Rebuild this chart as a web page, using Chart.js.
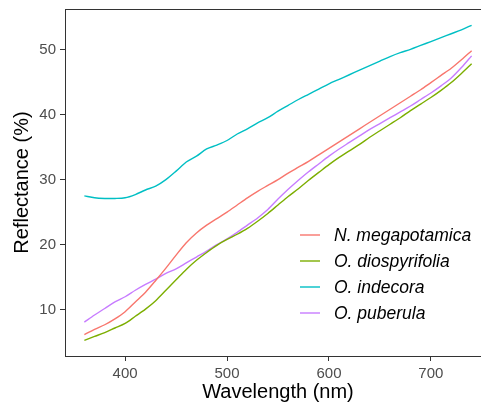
<!DOCTYPE html>
<html lang="en">
<head>
    <meta charset="UTF-8">
    <script src="https://cdn.jsdelivr.net/npm/chart.js"></script>
    <style>
        html, body {
            margin: 0;
            padding: 0;
            background: #ffffff;
            overflow: hidden;
        }

        #wrap {
            width: 500px;
            height: 407px;
        }
    </style>
    <title>Reflectance</title>
</head>
<body>
    <div id="wrap"><canvas id="spectra" width="500" height="407"></canvas></div>
    <script>
        // wavelengths (nm) and reflectance (%)
        const wavelengths = [360, 370, 380, 390, 400, 410, 420, 430, 440, 450, 460, 470, 480, 490, 500,
            510, 520, 530, 540, 550, 560, 570, 580, 590, 600, 610, 620, 630, 640, 650,
            660, 670, 680, 690, 700, 710, 720, 730, 740];

        const megapotamica = [6.2, 7.0, 7.7, 8.6, 9.7, 11.2, 12.7, 14.5, 16.4, 18.4, 20.3, 21.8, 23.0, 24.0, 25.0,
            26.1, 27.2, 28.2, 29.1, 30.0, 31.0, 31.9, 32.8, 33.8, 34.8, 35.8, 36.8, 37.8, 38.8, 39.8,
            40.8, 41.8, 42.8, 43.8, 44.9, 46.0, 47.1, 48.4, 49.8];

        const diospyrifolia = [5.3, 5.9, 6.5, 7.2, 7.9, 9.0, 10.1, 11.4, 13.0, 14.6, 16.2, 17.6, 18.8, 19.9, 20.8,
            21.6, 22.5, 23.6, 24.8, 26.1, 27.4, 28.6, 29.9, 31.1, 32.3, 33.4, 34.4, 35.4, 36.5, 37.5,
            38.5, 39.5, 40.6, 41.6, 42.6, 43.7, 44.9, 46.3, 47.8];

        const indecora = [27.5, 27.2, 27.1, 27.1, 27.2, 27.7, 28.4, 29.0, 30.0, 31.3, 32.7, 33.6, 34.7, 35.3, 36.0,
            37.0, 37.8, 38.7, 39.5, 40.5, 41.4, 42.3, 43.1, 43.9, 44.7, 45.4, 46.1, 46.8, 47.5, 48.2,
            48.9, 49.5, 50.0, 50.6, 51.2, 51.8, 52.4, 53.0, 53.7];

        const puberula = [8.1, 9.2, 10.2, 11.2, 12.0, 13.0, 13.9, 14.7, 15.6, 16.3, 17.2, 18.1, 19.0, 20.0, 20.9,
            21.9, 23.0, 24.1, 25.4, 27.0, 28.5, 29.9, 31.2, 32.4, 33.6, 34.7, 35.7, 36.7, 37.7, 38.6,
            39.5, 40.4, 41.3, 42.3, 43.3, 44.4, 45.6, 47.2, 49.0];

        const speciesNames = ["N. megapotamica", "O. diospyrifolia", "O. indecora", "O. puberula"];
        const speciesColors = ["#F8766D", "#7CAE00", "#00BFC4", "#C77CFF"];
        const xTicks = [400, 500, 600, 700];
        const yTicks = [10, 20, 30, 40, 50];

        const FONT = "'Liberation Sans', Arial, sans-serif";
        const seriesValues = [megapotamica, diospyrifolia, indecora, puberula];

        const datasets = speciesNames.map((name, i) => ({
            label: name,
            data: wavelengths.map((w, j) => ({ x: w, y: seriesValues[i][j] })),
            borderColor: speciesColors[i],
            borderWidth: 1.4,
            pointRadius: 0,
            tension: 0.3,
            fill: false
        }));

        // panel top border + legend drawn inside the panel
        const panelExtras = {
            id: "panelExtras",
            afterDraw(chart) {
                const ctx = chart.ctx;
                const area = chart.chartArea;
                ctx.save();
                ctx.strokeStyle = "#333333";
                ctx.lineWidth = 1;
                ctx.beginPath();
                ctx.moveTo(area.left, Math.round(area.top) + 0.5);
                ctx.lineTo(area.right, Math.round(area.top) + 0.5);
                ctx.stroke();

                const x0 = 300, y0 = 235, rowGap = 26;
                ctx.font = "italic 17.5px " + FONT;
                ctx.textBaseline = "middle";
                ctx.fillStyle = "#000000";
                chart.data.datasets.forEach((ds, i) => {
                    const y = y0 + i * rowGap;
                    ctx.strokeStyle = ds.borderColor;
                    ctx.lineWidth = 1.4;
                    ctx.beginPath();
                    ctx.moveTo(x0, y);
                    ctx.lineTo(x0 + 20, y);
                    ctx.stroke();
                    ctx.fillText(ds.label, x0 + 34, y + 1);
                });
                ctx.restore();
            }
        };

        new Chart(document.getElementById("spectra"), {
            type: "line",
            data: { datasets: datasets },
            plugins: [panelExtras],
            options: {
                responsive: false,
                animation: false,
                layout: { padding: { top: 9, right: 9, left: 0, bottom: 0 } },
                plugins: {
                    legend: { display: false },
                    tooltip: { enabled: false }
                },
                scales: {
                    x: {
                        type: "linear",
                        min: 341,
                        max: 759,
                        afterBuildTicks: (scale) => { scale.ticks = xTicks.map(v => ({ value: v })); },
                        afterFit: (scale) => {
                            scale.height = 51;
                            scale.paddingLeft = 0;
                            scale.paddingRight = 0;
                        },
                        grid: { drawOnChartArea: false, drawTicks: true, tickLength: 5, color: "#333333" },
                        border: { display: true, color: "#333333", width: 1 },
                        ticks: { color: "#4D4D4D", font: { family: FONT, size: 15 }, padding: 4, maxRotation: 0 },
                        title: {
                            display: true,
                            text: "Wavelength (nm)",
                            color: "#000000",
                            font: { family: FONT, size: 20 },
                            padding: { top: 2, bottom: 3 }
                        }
                    },
                    y: {
                        type: "linear",
                        min: 2.9,
                        max: 56.2,
                        afterBuildTicks: (scale) => { scale.ticks = yTicks.map(v => ({ value: v })); },
                        afterFit: (scale) => {
                            scale.width = 65;
                            scale.paddingTop = 0;
                            scale.paddingBottom = 0;
                        },
                        grid: { drawOnChartArea: false, drawTicks: true, tickLength: 5, color: "#333333" },
                        border: { display: true, color: "#333333", width: 1 },
                        ticks: { color: "#4D4D4D", font: { family: FONT, size: 15 }, padding: 4 },
                        title: {
                            display: true,
                            text: "Reflectance (%)",
                            color: "#000000",
                            font: { family: FONT, size: 20 },
                            padding: { top: 10, bottom: 0 }
                        }
                    }
                }
            }
        });
    </script>
</body>
</html>
